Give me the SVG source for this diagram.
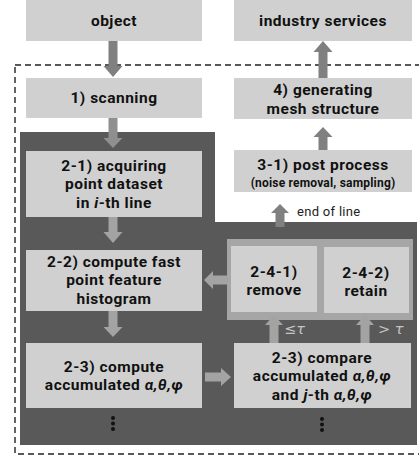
<svg xmlns="http://www.w3.org/2000/svg" width="419" height="456" viewBox="0 0 419 456">
<style>
.box{fill:#d0d0d0}
.t{font-family:Roboto,"Noto Sans",sans-serif;font-weight:bold;font-size:15.5px;fill:#111;text-anchor:middle;letter-spacing:0.5px}
.s{font-size:12px;letter-spacing:0.2px}
.aw{fill:#808080}
.ad{fill:#8f8f8f}
.al{fill:#a3a3a3}
.lbl{font-family:Roboto,"Noto Sans",sans-serif;font-size:13px;fill:#222;letter-spacing:0.3px}
.tau{font-family:"DejaVu Sans",sans-serif;font-size:14.5px;fill:#c4c4c4}
</style>
<rect x="15" y="65" width="410" height="389" fill="none" stroke="#222" stroke-width="1.4" stroke-dasharray="6,4"/>
<path d="M20,132 H215 V222 H417 V445 H20 Z" fill="#595959"/>
<g id="object"><rect class="box" x="26" y="0" width="176" height="41"/><text class="t" x="114" y="26">object</text></g>
<g id="industry"><rect class="box" x="234" y="0" width="178" height="41"/><text class="t" x="323" y="26">industry services</text></g>
<g id="scanning"><rect class="box" x="26" y="78" width="176" height="40"/><text class="t" x="114" y="103">1) scanning</text></g>
<g id="mesh"><rect class="box" x="234" y="78" width="178" height="41"/><text class="t" x="323" y="95">4) generating</text><text class="t" x="323" y="113.5">mesh structure</text></g>
<g id="post"><rect class="box" x="234" y="150" width="178" height="42"/><text class="t" x="323" y="170">3-1) post process</text><text class="t s" x="323" y="186.5">(noise removal, sampling)</text></g>
<g id="acquire"><rect class="box" x="26" y="151" width="176" height="66"/><text class="t" x="114" y="171">2-1) acquiring</text><text class="t" x="114" y="189.4">point dataset</text><text class="t" x="114" y="207.8">in <tspan font-style="italic">i</tspan>-th line</text></g>
<g id="fpfh"><rect class="box" x="26" y="250" width="176" height="61"/><text class="t" x="114" y="267">2-2) compute fast</text><text class="t" x="114" y="285.4">point feature</text><text class="t" x="114" y="303.8">histogram</text></g>
<g id="accum"><rect class="box" x="26" y="343" width="176" height="65"/><text class="t" x="114" y="372">2-3) compute</text><text class="t" x="114" y="390.4">accumulated <tspan font-style="italic">α,θ,φ</tspan></text>
<circle cx="113" cy="418" r="2" fill="#111"/><circle cx="113" cy="423.5" r="2" fill="#111"/><circle cx="113" cy="429" r="2" fill="#111"/></g>
<g id="decision"><rect x="227" y="239" width="186" height="81" fill="#a6a6a6"/>
<g id="remove"><rect class="box" x="231" y="246" width="86" height="66"/><text class="t" x="274" y="276.5">2-4-1)</text><text class="t" x="274" y="294.9">remove</text></g>
<g id="retain"><rect class="box" x="324" y="247" width="85" height="66"/><text class="t" x="366" y="277.5">2-4-2)</text><text class="t" x="366" y="295.9">retain</text></g></g>
<g id="compare"><rect class="box" x="234" y="343" width="177" height="65"/><text class="t" x="322" y="363">2-3) compare</text><text class="t" x="322" y="381.4">accumulated <tspan font-style="italic">α,θ,φ</tspan></text><text class="t" x="322" y="399.8">and <tspan font-style="italic">j</tspan>-th <tspan font-style="italic">α,θ,φ</tspan></text>
<circle cx="322" cy="419" r="2" fill="#111"/><circle cx="322" cy="424.5" r="2" fill="#111"/><circle cx="322" cy="430" r="2" fill="#111"/></g>
<g id="connectors">
<polygon class="aw" points="108.5,41 117.5,41 117.5,66 122.5,66 113,77 103.5,66 108.5,66"/>
<polygon class="ad" points="108.5,118 117.5,118 117.5,138 122.5,138 113,148 103.5,138 108.5,138"/>
<polygon class="al" points="108.5,217 117.5,217 117.5,232 122.5,232 113,243 103.5,232 108.5,232"/>
<polygon class="al" points="108.5,311 117.5,311 117.5,327 122.5,327 113,337 103.5,327 108.5,327"/>
<polygon class="aw" points="318.5,78 327.5,78 327.5,52 332.5,52 323,41 313.5,52 318.5,52"/>
<polygon class="aw" points="318.5,150 327.5,150 327.5,137 332.5,137 323,127 313.5,137 318.5,137"/>
<polygon class="aw" points="275.5,227 284.5,227 284.5,213 289,213 280,204 271,213 275.5,213"/>
<polygon class="al" points="269.5,343 278.5,343 278.5,325 283,325 274,315 265,325 269.5,325"/>
<polygon class="al" points="360.5,343 369.5,343 369.5,325 374,325 365,315 356,325 360.5,325"/>
<polygon class="al" points="228,275.5 228,284.5 213,284.5 213,289 204,280 213,271 213,275.5"/>
<polygon class="al" points="205,372.5 205,381.5 221,381.5 221,386 231,377 221,368 221,372.5"/>
<text class="lbl" x="297" y="216">end of line</text>
<text class="tau" x="284" y="334">≤<tspan font-style="italic">τ</tspan></text>
<text class="tau" x="378" y="334">&gt; <tspan font-style="italic">τ</tspan></text>
</g>
</svg>
